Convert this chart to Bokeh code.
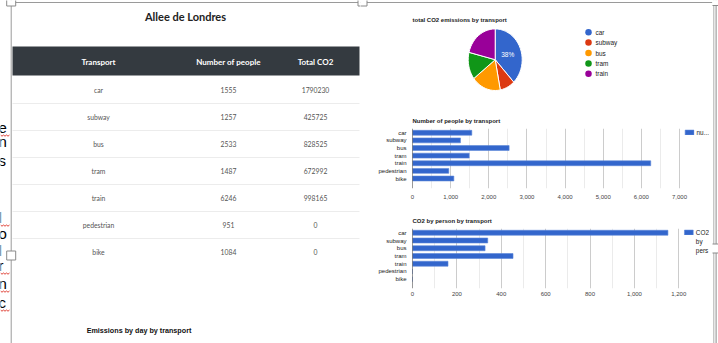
import math
from bokeh.plotting import figure
from bokeh.layouts import row, column
from bokeh.models import (Range1d, FixedTicker, Span, Legend, LegendItem,
                          NumeralTickFormatter, ColumnDataSource)
from bokeh.core.properties import value
from bokeh.embed import file_html
from bokeh.resources import INLINE

# ---------------- data ----------------
page_title = "Allee de Londres"
table_headers = ["Transport", "Number of people", "Total CO2"]
transports = ["car", "subway", "bus", "tram", "train", "pedestrian", "bike"]
people = [1555, 1257, 2533, 1487, 6246, 951, 1084]
total_co2 = [1790230, 425725, 828525, 672992, 998165, 0, 0]
co2_per_person = [1151, 339, 327, 453, 160, 0, 0]

pie_title = "total CO2 emissions by transport"
pie_labels = ["car", "subway", "bus", "tram", "train"]
pie_values = [1790230, 425725, 828525, 672992, 998165]
pie_colors = ["#3366cc", "#dc3912", "#ff9900", "#109618", "#990099"]

bar1_title = "Number of people by transport"
bar1_legend = ["nu..."]
bar1_ticks = [0, 1000, 2000, 3000, 4000, 5000, 6000, 7000]
bar1_minor = [500, 1500, 2500, 3500, 4500, 5500, 6500]

bar2_title = "CO2 by person by transport"
bar2_legend = ["CO2", "by", "pers"]
bar2_ticks = [0, 200, 400, 600, 800, 1000, 1200]
bar2_minor = [100, 300, 500, 700, 900, 1100]

bottom_heading = "Emissions by day by transport"
side_letters = ["e", "n", "s", "l", "o", "l", "r", "n", "c"]
side_marked = [True, False, False, True, False, False, True, True, True]

# ---------------- style ----------------
TABLE_FONT = value("Lato")
CHART_FONT_NAME = "Liberation Sans"
CHART_FONT = value(CHART_FONT_NAME)
BAR_BLUE = "#3366cc"
EDGE = "#9a9a9a"


def blank(width, height, xr, yr):
    f = figure(width=width, height=height, x_range=xr, y_range=yr,
               output_backend="svg", toolbar_location=None,
               x_axis_location=None, y_axis_location=None, min_border=0)
    f.grid.visible = False
    f.outline_line_color = None
    return f


def handle(f, cx, cy, s=9):
    f.rect(x=[cx], y=[cy], width=s, height=s, fill_color="white",
           line_color="#8a8a8a", line_width=1)


# ---------------- left: table ----------------
L = blank(360, 343, Range1d(0, 360), Range1d(343, 0))
L.segment(x0=[10.7], y0=[0], x1=[10.7], y1=[343], line_color=EDGE, line_width=1)
L.segment(x0=[10.7], y0=[2], x1=[360], y1=[2], line_color=EDGE, line_width=1)
side_y = [127, 141, 160, 217, 233, 250, 265, 283, 302]
L.text(x=[-2] * len(side_letters), y=side_y, text=side_letters,
       text_font=value("Liberation Sans"), text_font_size="15px",
       text_color="#000000", text_align="left", text_baseline="middle")
# spell-check squiggles of the underlying document
sq_xs, sq_ys = [], []
for yy, m in zip(side_y, side_marked):
    if m:
        sq_xs.append([0, 1.5, 3, 4.5, 6, 7.5, 9])
        sq_ys.append([yy + 7.5 + (1.2 if k % 2 else 0) for k in range(7)])
L.multi_line(xs=sq_xs, ys=sq_ys, line_color="#e0443a", line_width=1)
handle(L, 10.7, 1)
handle(L, 362, 1)
handle(L, 10.7, 255)

L.text(x=[185], y=[16], text=[page_title], text_font=TABLE_FONT,
       text_font_size="11px", text_font_style="bold", text_color="#222222",
       text_align="center", text_baseline="middle")

L.quad(left=[12], right=[359], top=[46], bottom=[75],
       fill_color="#343a40", line_color=None)
col_x = [98, 228, 315]
L.text(x=col_x, y=[61] * 3, text=table_headers, text_font=TABLE_FONT,
       text_font_size="8px", text_font_style="bold", text_color="white",
       text_align="center", text_baseline="middle")

row_y = [89.5 + 27 * i for i in range(len(transports))]
sep_y = [y + 13.5 for y in row_y[:-1]]
L.segment(x0=[12] * len(sep_y), y0=sep_y, x1=[359] * len(sep_y), y1=sep_y,
          line_color="#ececec", line_width=1)
for cx_, vals in zip(col_x, [transports, [str(v) for v in people],
                             [str(v) for v in total_co2]]):
    L.text(x=[cx_] * len(vals), y=row_y, text=vals, text_font=TABLE_FONT,
           text_font_size="6.8px", text_color="#555555",
           text_align="center", text_baseline="middle")

L.text(x=[138.5], y=[330], text=[bottom_heading], text_font=CHART_FONT,
       text_font_size="7.2px", text_font_style="bold", text_color="#111111",
       text_align="center", text_baseline="middle")

# ---------------- right: pie ----------------
P = blank(352, 105, Range1d(0, 352), Range1d(105, 0))
P.segment(x0=[0], y0=[2], x1=[352], y1=[2], line_color=EDGE, line_width=1)
handle(P, 2, 1)
P.text(x=[52], y=[19], text=[pie_title], text_font=CHART_FONT,
       text_font_size="6px", text_font_style="bold", text_color="#222222",
       text_align="left", text_baseline="middle")

cx, cy, rx, ry = 134.7, 59.2, 27.0, 30.8
total = float(sum(pie_values))
xs, ys, mids = [], [], []
acc = 0.0
for v in pie_values:
    a0 = 2 * math.pi * acc / total
    acc += v
    a1 = 2 * math.pi * acc / total
    n = max(4, int(60 * (a1 - a0) / (2 * math.pi)) + 2)
    ts = [a0 + (a1 - a0) * k / n for k in range(n + 1)]
    xs.append([cx] + [cx + rx * math.sin(t) for t in ts])
    ys.append([cy] + [cy - ry * math.cos(t) for t in ts])
    mids.append((a0 + a1) / 2)
P.patches(xs=xs, ys=ys, fill_color=pie_colors, line_color="white", line_width=1)
big = max(range(len(pie_values)), key=lambda i: pie_values[i])
pct = f"{round(100 * pie_values[big] / total)}%"
P.text(x=[cx + 0.5 * rx * math.sin(mids[big])],
       y=[cy - 0.5 * ry * math.cos(mids[big])], text=[pct],
       text_font=CHART_FONT, text_font_size="6.5px", text_color="white",
       text_align="center", text_baseline="middle")

leg_y = [31.7 + 10.4 * i for i in range(len(pie_labels))]
P.scatter(x=[228] * len(pie_labels), y=leg_y, size=6.5, fill_color=pie_colors,
          line_color=None)
P.text(x=[235] * len(pie_labels), y=leg_y, text=pie_labels, text_font=CHART_FONT,
       text_font_size="6.4px", text_color="#222222", text_align="left",
       text_baseline="middle")


# ---------------- right: bar charts ----------------
def bar_chart(height, border_bottom, title, values, ticks, minor, xmax_frac,
              pad_top, pad_bottom, legend_labels, label_standoff):
    idx = list(range(len(transports)))
    b = figure(width=352, height=height, output_backend="svg",
               toolbar_location=None,
               x_range=Range1d(0, ticks[-1] * xmax_frac),
               y_range=Range1d(len(transports) - 1 + pad_bottom, -pad_top),
               min_border_left=52, min_border_right=3, min_border_top=23,
               min_border_bottom=border_bottom)
    b.outline_line_color = None
    b.title.text = title
    b.title.text_font = CHART_FONT_NAME
    b.title.text_font_size = "6px"
    b.title.text_font_style = "bold"
    b.title.text_color = "#222222"
    b.title.standoff = 9
    b.title.offset = 0

    src = ColumnDataSource(dict(y=idx, v=values))
    r = b.hbar(y="y", right="v", left=0, height=0.64, source=src,
               fill_color=BAR_BLUE, line_color="#5d86d8", line_width=0.6)

    b.xaxis.ticker = FixedTicker(ticks=ticks, minor_ticks=minor)
    b.xaxis.formatter = NumeralTickFormatter(format="0,0")
    b.yaxis.ticker = FixedTicker(ticks=idx)
    b.yaxis.major_label_overrides = {i: t for i, t in enumerate(transports)}
    for ax in (b.xaxis[0], b.yaxis[0]):
        ax.axis_line_color = None
        ax.major_tick_line_color = None
        ax.minor_tick_line_color = None
        ax.major_tick_out = 0
        ax.major_tick_in = 0
        ax.minor_tick_out = 0
        ax.minor_tick_in = 0
        ax.major_label_text_font = CHART_FONT_NAME
        ax.major_label_text_font_size = "6px"
    b.xaxis.major_label_text_color = "#444444"
    b.xaxis.major_label_standoff = label_standoff
    b.yaxis.major_label_text_color = "#222222"
    b.yaxis.major_label_standoff = 6

    b.ygrid.visible = False
    b.xgrid.ticker = FixedTicker(ticks=ticks, minor_ticks=minor)
    b.xgrid.grid_line_color = "#cccccc"
    b.xgrid.minor_grid_line_color = "#ebebeb"
    b.add_layout(Span(location=0, dimension="height", line_color="#333333",
                      line_width=1))

    items = [LegendItem(label=legend_labels[0], renderers=[r])]
    for lab in legend_labels[1:]:
        dummy = b.hbar(y=[], right=[], left=0, height=0.6, fill_alpha=0,
                       line_alpha=0)
        items.append(LegendItem(label=lab, renderers=[dummy]))
    leg = Legend(items=items, location="top_right", margin=0, padding=0,
                 spacing=1, glyph_width=11, glyph_height=6, label_standoff=2,
                 label_width=12, label_height=8, border_line_color=None,
                 background_fill_alpha=0, label_text_font=CHART_FONT_NAME,
                 label_text_font_size="6.4px", label_text_color="#222222")
    b.add_layout(leg)
    return b


B1 = bar_chart(100, 17, bar1_title, people, bar1_ticks, bar1_minor,
               297 / 267, 0.56, 1.31, bar1_legend, 6)
B2 = bar_chart(138, 55, bar2_title, co2_per_person, bar2_ticks, bar2_minor,
               297 / 266.3, 0.55, 1.2, bar2_legend, 3)

# ---------------- right border ----------------
R = blank(6, 343, Range1d(712, 718), Range1d(343, 0))
R.segment(x0=[712], y0=[2], x1=[714], y1=[2], line_color=EDGE, line_width=1)
R.segment(x0=[713.3, 715.6], y0=[0, 0], x1=[713.3, 715.6], y1=[343, 343],
          line_color=["#b0b0b0", "#8c8c8c"], line_width=1)
handle(R, 714, 1, 8)
handle(R, 714, 248, 9)

layout = row(L, column(row(P, spacing=0), B1, B2, spacing=0), R, spacing=0)

with open("out.html", "w") as fh:
    fh.write(file_html(layout, INLINE))
